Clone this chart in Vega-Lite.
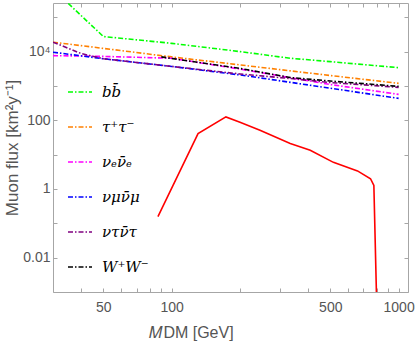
{
  "$schema": "https://vega.github.io/schema/vega-lite/v6.json",
  "width": 355,
  "height": 289,
  "autosize": {"type": "none"},
  "padding": {"left": 53, "top": 3, "right": 7, "bottom": 54},
  "background": "white",
  "config": {
    "view": {"stroke": "#a6a6a6", "strokeWidth": 1},
    "font": "Liberation Sans",
    "axis": {"grid": false, "domain": false, "tickColor": "#a6a6a6", "tickSize": -4, "labelColor": "#555555", "titleColor": "#555555", "labelFontSize": 14, "titleFontSize": 16, "titleFontWeight": "normal", "labelFont": "Liberation Sans", "titleFont": "Liberation Sans"}
  },
  "datasets": {
    "channels": [
      {"mass": 30, "flux": 660000, "channel": "bb̄"},
      {"mass": 50, "flux": 27500, "channel": "bb̄"},
      {"mass": 100, "flux": 17400, "channel": "bb̄"},
      {"mass": 200, "flux": 10000, "channel": "bb̄"},
      {"mass": 333, "flux": 6400, "channel": "bb̄"},
      {"mass": 500, "flux": 5100, "channel": "bb̄"},
      {"mass": 1000, "flux": 3400, "channel": "bb̄"},
      {"mass": 30, "flux": 18800, "channel": "τ⁺τ⁻"},
      {"mass": 50, "flux": 12400, "channel": "τ⁺τ⁻"},
      {"mass": 100, "flux": 7000, "channel": "τ⁺τ⁻"},
      {"mass": 200, "flux": 4100, "channel": "τ⁺τ⁻"},
      {"mass": 500, "flux": 2010, "channel": "τ⁺τ⁻"},
      {"mass": 1000, "flux": 1190, "channel": "τ⁺τ⁻"},
      {"mass": 30, "flux": 7640, "channel": "νₑν̄ₑ"},
      {"mass": 50, "flux": 7240, "channel": "νₑν̄ₑ"},
      {"mass": 100, "flux": 6400, "channel": "νₑν̄ₑ"},
      {"mass": 200, "flux": 3100, "channel": "νₑν̄ₑ"},
      {"mass": 500, "flux": 1100, "channel": "νₑν̄ₑ"},
      {"mass": 1000, "flux": 567, "channel": "νₑν̄ₑ"},
      {"mass": 30, "flux": 9600, "channel": "νμν̄μ"},
      {"mass": 50, "flux": 6200, "channel": "νμν̄μ"},
      {"mass": 100, "flux": 3700, "channel": "νμν̄μ"},
      {"mass": 200, "flux": 2090, "channel": "νμν̄μ"},
      {"mass": 500, "flux": 860, "channel": "νμν̄μ"},
      {"mass": 1000, "flux": 434, "channel": "νμν̄μ"},
      {"mass": 30, "flux": 18800, "channel": "ντν̄τ"},
      {"mass": 40, "flux": 8750, "channel": "ντν̄τ"},
      {"mass": 50, "flux": 6200, "channel": "ντν̄τ"},
      {"mass": 100, "flux": 3700, "channel": "ντν̄τ"},
      {"mass": 200, "flux": 2230, "channel": "ντν̄τ"},
      {"mass": 333, "flux": 1645, "channel": "ντν̄τ"},
      {"mass": 500, "flux": 1256, "channel": "ντν̄τ"},
      {"mass": 1000, "flux": 910, "channel": "ντν̄τ"},
      {"mass": 90, "flux": 7000, "channel": "W⁺W⁻"},
      {"mass": 100, "flux": 6320, "channel": "W⁺W⁻"},
      {"mass": 200, "flux": 3230, "channel": "W⁺W⁻"},
      {"mass": 333, "flux": 1760, "channel": "W⁺W⁻"},
      {"mass": 500, "flux": 1390, "channel": "W⁺W⁻"},
      {"mass": 1000, "flux": 973, "channel": "W⁺W⁻"}
    ],
    "signal": [
      {"mass": 87, "flux": 0.157},
      {"mass": 130.7, "flux": 41.1},
      {"mass": 173.4, "flux": 125.6},
      {"mass": 200, "flux": 87.9},
      {"mass": 245, "flux": 51.4},
      {"mass": 333, "flux": 21.0},
      {"mass": 408, "flux": 13.4},
      {"mass": 516, "flux": 5.96},
      {"mass": 659, "flux": 3.36},
      {"mass": 752, "flux": 1.99},
      {"mass": 778, "flux": 1.26},
      {"mass": 805, "flux": 0.0001}
    ]
  },
  "layer": [
    {
      "data": {"name": "channels"},
      "mark": {"type": "line", "strokeDash": [5, 2, 1.5, 2], "strokeWidth": 1.6, "clip": true},
      "encoding": {
        "x": {
          "field": "mass", "type": "quantitative",
          "scale": {"type": "log", "domain": [30, 1100], "nice": false},
          "axis": {
            "orient": "bottom",
            "values": [40, 50, 60, 70, 80, 90, 100, 200, 300, 400, 500, 600, 700, 800, 900, 1000],
            "labelExpr": "datum.value == 50 ? '50' : datum.value == 100 ? '100' : datum.value == 500 ? '500' : datum.value == 1000 ? '1000' : ''",
            "labelPadding": 12,
            "title": "𝑀DM [GeV]",
            "titleX": 138,
            "titleAlign": "center",
            "titlePadding": 10
          }
        },
        "y": {
          "field": "flux", "type": "quantitative",
          "scale": {"type": "log", "domain": [0.001, 260000], "nice": false},
          "axis": {
            "orient": "left",
            "values": [0.001, 0.01, 0.1, 1, 10, 100, 1000, 10000, 100000],
            "labelExpr": "datum.value == 0.01 ? '0.01' : datum.value == 1 ? '1' : datum.value == 100 ? '100' : datum.value == 10000 ? '10⁴' : ''",
            "labelPadding": 7,
            "title": "Muon flux [km²y⁻¹]",
            "titleFontSize": 17,
            "titlePadding": 1
          }
        },
        "color": {
          "field": "channel", "type": "nominal",
          "scale": {
            "domain": ["bb̄", "τ⁺τ⁻", "νₑν̄ₑ", "νμν̄μ", "ντν̄τ", "W⁺W⁻"],
            "range": ["#00ff00", "#ff8000", "#ff00ff", "#0000ff", "#800080", "#000000"]
          },
          "legend": {
            "orient": "none", "legendX": 14, "legendY": 76,
            "title": null,
            "symbolType": "stroke", "symbolSize": 576, "symbolStrokeWidth": 1.6,
            "symbolDash": [5, 2, 1.5, 2],
            "labelFont": "DejaVu Serif", "labelFontStyle": "italic", "labelFontSize": 15,
            "labelColor": "#000000", "labelOffset": 9, "rowPadding": 14
          }
        }
      }
    },
    {
      "data": {"name": "signal"},
      "mark": {"type": "line", "color": "#ff0000", "strokeWidth": 1.6, "clip": true},
      "encoding": {
        "x": {
          "field": "mass", "type": "quantitative",
          "scale": {"type": "log", "domain": [30, 1100], "nice": false},
          "axis": {
            "orient": "top", "labels": false, "title": null,
            "values": [40, 50, 60, 70, 80, 90, 100, 200, 300, 400, 500, 600, 700, 800, 900, 1000]
          }
        },
        "y": {
          "field": "flux", "type": "quantitative",
          "scale": {"type": "log", "domain": [0.001, 260000], "nice": false},
          "axis": {
            "orient": "right", "labels": false, "title": null,
            "values": [0.001, 0.01, 0.1, 1, 10, 100, 1000, 10000, 100000]
          }
        }
      }
    }
  ],
  "resolve": {"axis": {"x": "independent", "y": "independent"}}
}
